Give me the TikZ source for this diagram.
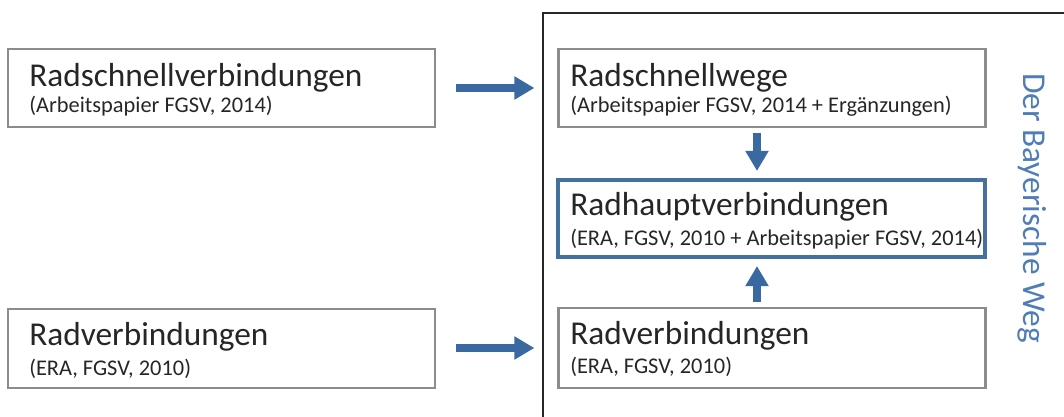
\documentclass[tikz,border=0pt]{standalone}
\usepackage{fontspec}
\setmainfont{Carlito}
\usetikzlibrary{arrows.meta}
\definecolor{boxgray}{HTML}{8C8C8C}
\definecolor{boxblue}{HTML}{41719C}
\definecolor{arrblue}{HTML}{3A68A0}
\definecolor{vblue}{HTML}{4F7DB5}
\definecolor{txt}{HTML}{262626}
\begin{document}
\begin{tikzpicture}[x=0.75pt,y=-0.75pt,
  graybox/.style={draw=boxgray,line width=1.9pt,minimum width=320.5pt,inner sep=0pt},
  bluebox/.style={draw=boxblue,line width=2.6pt,minimum width=320.5pt,inner sep=0pt},
  title/.style={anchor=base west,inner sep=0pt,text=txt,font=\fontsize{25}{30}\selectfont},
  sub/.style={anchor=base west,inner sep=0pt,text=txt,font=\fontsize{16.8}{20}\selectfont},
  bigarrow/.style={draw=arrblue,line width=6pt,-{Triangle[length=15pt,width=16.5pt]}},
  frame/.style={draw=black!85,line width=1.5pt},
  vtext/.style={rotate=-90,text=vblue,inner sep=0pt,font=\fontsize{25}{30}\selectfont}]
\useasboundingbox (0,0) rectangle (1064,417);
% frame
\draw[frame] (543,420) |- (1070,13);
% boxes
\node[graybox,minimum height=58.5pt] (L1) at (221.5,88) {};
\node[graybox,minimum height=59.25pt] (L2) at (221.5,348.5) {};
\node[graybox,minimum height=58.5pt] (R1) at (772,88) {};
\node[bluebox,minimum height=57.75pt] (R2) at (771.5,218.5) {};
\node[graybox,minimum height=60pt] (R3) at (772,348) {};
% texts
\node[title] (L1t) at (29,87) {Radschnellverbindungen};
\node[sub] (L1s) at (29,113) {(Arbeitspapier FGSV, 2014)};
\node[title] (L2t) at (29,345) {Radverbindungen};
\node[sub] (L2s) at (29,375) {(ERA, FGSV, 2010)};
\node[title] (R1t) at (570,87) {Radschnellwege};
\node[sub] (R1s) at (570,113) {(Arbeitspapier FGSV, 2014 + Ergänzungen)};
\node[title] (R2t) at (570,216) {Radhauptverbindungen};
\node[sub] (R2s) at (570,245) {(ERA, FGSV, 2010 + Arbeitspapier FGSV, 2014)};
\node[title] (R3t) at (570,344) {Radverbindungen};
\node[sub] (R3s) at (570,373) {(ERA, FGSV, 2010)};
% vertical label
\node[vtext] (vt) at (1032,208) {Der Bayerische Weg};
% arrows
\draw[bigarrow,shorten <=15pt,shorten >=17pt] (L1.east) -- (R1.west);
\draw[bigarrow,shorten <=15pt,shorten >=17pt] (L2.east |- R3.west) -- (R3.west);
\draw[bigarrow,shorten <=3.5pt,shorten >=5.5pt] ([xshift=-11.25pt]R1.south) -- ([xshift=-11.25pt]R1.south |- R2.north);
\draw[bigarrow,shorten <=3.5pt,shorten >=5.5pt] ([xshift=-11.25pt]R3.north) -- ([xshift=-11.25pt]R3.north |- R2.south);
\end{tikzpicture}
\end{document}
